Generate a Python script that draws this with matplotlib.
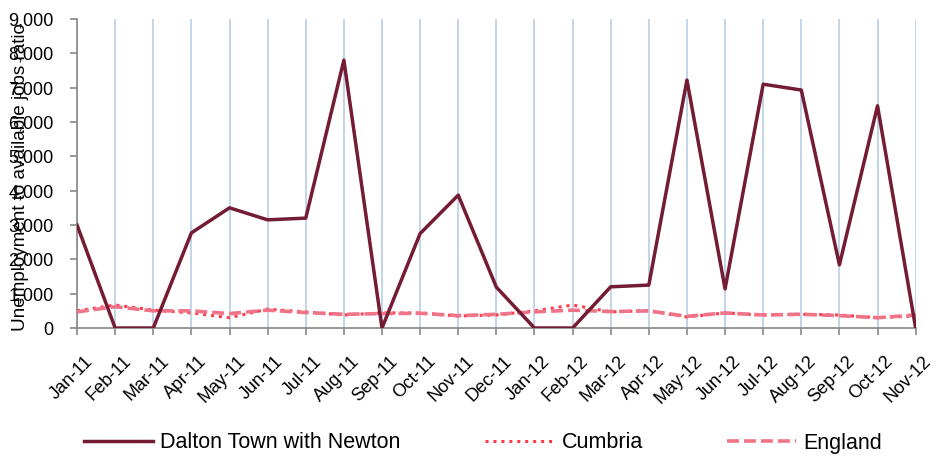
import matplotlib
matplotlib.use("Agg")
import matplotlib.pyplot as plt
import matplotlib.transforms as mtransforms
from matplotlib.ticker import FuncFormatter

plt.rcParams['font.family'] = ['Liberation Sans', 'DejaVu Sans']

months = ["Jan-11", "Feb-11", "Mar-11", "Apr-11", "May-11", "Jun-11", "Jul-11", "Aug-11",
          "Sep-11", "Oct-11", "Nov-11", "Dec-11", "Jan-12", "Feb-12", "Mar-12", "Apr-12",
          "May-12", "Jun-12", "Jul-12", "Aug-12", "Sep-12", "Oct-12", "Nov-12"]
dalton = [3000, 0, 0, 2770, 3500, 3150, 3200, 7800, 0, 2750, 3870, 1190, 0, 0,
          1200, 1250, 7220, 1140, 7100, 6930, 1840, 6470, 0]
cumbria = [500, 670, 520, 440, 300, 550, 470, 380, 440, 440, 350, 380, 500, 670,
           470, 500, 320, 440, 380, 400, 380, 300, 350]
england = [470, 620, 500, 500, 420, 520, 450, 400, 420, 430, 360, 400, 470, 520,
           480, 500, 340, 440, 380, 400, 360, 300, 380]

fig = plt.figure(figsize=(9.43, 4.62), dpi=100)
ax = fig.add_axes([0.0817, 0.29, 0.8893, 0.669])

x = list(range(len(months)))
l_c, = ax.plot(x, cumbria, color='#ff3a4c', linestyle=(0, (1, 1.6)), linewidth=2.2, zorder=3)
l_e, = ax.plot(x, england, color='#f07488', linestyle=(0, (3.3, 1.4)), linewidth=2.6, zorder=3)
l_d, = ax.plot(x, dalton, color='#731c33', linewidth=2.5, zorder=4)

ax.set_xlim(0, len(months) - 1)
ax.set_ylim(0, 9000)
ax.set_yticks(range(0, 9001, 1000))
ax.yaxis.set_major_formatter(FuncFormatter(lambda v, p: f"{int(v):,}"))
ax.set_xticks(x)
ax.set_xticklabels(months, rotation=45, ha='right', va='center', rotation_mode='anchor', fontsize=13)
ax.tick_params(axis='y', labelsize=13, length=5, color='#888888', width=1.2, pad=12)
ax.tick_params(axis='x', length=5, color='#888888', width=1.2, pad=0)
offset = mtransforms.ScaledTranslation(0.13, -0.24, fig.dpi_scale_trans)
for lbl in ax.get_xticklabels():
    lbl.set_transform(lbl.get_transform() + offset)

ax.grid(axis='x', color='#b9cde5', linewidth=1.2)
ax.set_axisbelow(True)
for s in ['top', 'right']:
    ax.spines[s].set_visible(False)
for s in ['left', 'bottom']:
    ax.spines[s].set_color('#888888')
    ax.spines[s].set_linewidth(1.2)

fig.text(0.022, 0.617, "Unemployment to available jobs ratio", rotation=90,
         ha='center', va='center', fontsize=13.6)

legend_items = [(l_d, "Dalton Town with Newton", 84), (l_c, "Cumbria", 485), (l_e, "England", 727)]
for h, lab, xp in legend_items:
    lg = fig.legend([h], [lab], loc='center left', bbox_to_anchor=(xp / 943, 1 - 443 / 462),
                    frameon=False, fontsize=15.5, handlelength=3.2, handletextpad=0.35,
                    borderpad=0, borderaxespad=0)

fig.savefig("out.png", dpi=100)
